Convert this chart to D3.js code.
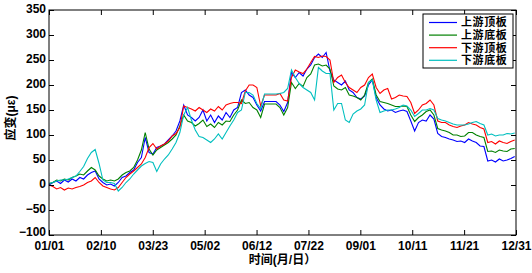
<!DOCTYPE html>
<html>
<head>
<meta charset="utf-8">
<script src="https://cdn.jsdelivr.net/npm/d3@7"></script>
<style>
html,body{margin:0;padding:0;background:#fff;}
svg{display:block;}
</style>
</head>
<body>
<svg id="chart" width="532" height="273"></svg>
<script>
// ---- data ----
const dayStep = 3;
const days = d3.range(0, 364, dayStep); // day-of-year grid (0 = 01/01)
const xTickLabels = ["01/01","02/10","03/23","05/02","06/12","07/22","09/01","10/11","11/21","12/31"];
const yTicks = [-100,-50,0,50,100,150,200,250,300,350];
const seriesNames = ["上游顶板","上游底板","下游顶板","下游底板"];
const seriesColors = ["#0000ff","#008000","#ff0000","#00bfbf"];

const upTop = [
  0, 5, 8, 3, 10, 6, 12, 8, 15, 12,
  20, 25, 28, 12, 5, 0, 2, -2, 5, 15,
  18, 25, 30, 45, 55, 95, 65, 62, 75, 78,
  82, 90, 98, 108, 128, 160, 140, 135, 128, 135,
  150, 128, 140, 125, 138, 130, 145, 135, 150, 155,
  185, 190, 180, 175, 160, 148, 167, 167, 167, 167,
  160, 147, 165, 225, 215, 225, 218, 232, 240, 255,
  262, 255, 265, 228, 210, 205, 200, 208, 190, 185,
  175, 172, 178, 200, 210, 175, 160, 152, 148, 150,
  145, 148, 150, 147, 128, 108, 125, 130, 128, 140,
  132, 103, 97, 95, 92, 90, 87, 88, 85, 92,
  88, 85, 78, 77, 48, 50, 46, 52, 48, 50,
  53, 57
];
const upBottom = [
  3, 5, 10, 8, 12, 10, 15, 18, 22, 20,
  28, 35, 30, 18, 12, 8, 10, 8, 12, 20,
  25, 28, 35, 50, 70, 105, 72, 60, 70, 75,
  80, 85, 92, 100, 118, 140, 128, 125, 118, 123,
  130, 117, 122, 115, 125, 120, 128, 127, 140, 150,
  170, 163, 165, 155, 150, 135, 162, 162, 162, 162,
  155, 140, 155, 205, 193, 203, 197, 215, 222, 240,
  242, 238, 240, 232, 198, 192, 190, 195, 180, 178,
  175, 170, 180, 205, 212, 180, 167, 165, 163, 160,
  157, 157, 158, 157, 140, 127, 135, 140, 147, 150,
  140, 113, 110, 108, 105, 100, 100, 97, 98, 105,
  105, 100, 97, 95, 67, 68, 65, 70, 68, 67,
  72, 73
];
const downTop = [
  0, -3, -8, -5, -10, -6, -8, -5, -3, 0,
  5, 8, 15, 5, -2, -5, -8, -10, -5, 5,
  15, 22, 28, 35, 42, 55, 75, 83, 72, 78,
  82, 88, 98, 103, 115, 158, 155, 152, 148, 155,
  150, 145, 152, 148, 157, 150, 160, 163, 165, 165,
  163, 188, 200, 200, 195, 158, 180, 180, 180, 180,
  183, 170, 168, 215, 230, 226, 223, 232, 245, 257,
  255, 258, 257, 250, 205, 215, 220, 205, 195, 190,
  185, 195, 200, 215, 222, 195, 183, 190, 193, 172,
  175, 180, 178, 177, 165, 143, 150, 160, 163, 170,
  160, 128, 125, 125, 120, 117, 115, 118, 120, 125,
  122, 120, 115, 112, 85, 87, 82, 88, 85, 83,
  87, 90
];
const downBottom = [
  3, 5, 8, 10, 10, 12, 15, 18, 27, 37,
  53, 65, 71, 43, 10, 5, 5, 3, -12, -5,
  5, 12, 22, 30, 38, 43, 47, 45, 27, 42,
  52, 60, 72, 85, 105, 140, 155, 130, 110, 97,
  95, 90, 85, 92, 102, 92, 105, 118, 130, 145,
  150, 185, 185, 180, 163, 153, 182, 182, 182, 182,
  183, 185, 193, 230, 215, 203, 195, 190, 185, 170,
  235, 228, 223, 223, 150, 163, 163, 130, 125, 142,
  148, 152, 160, 205, 210, 170, 145, 148, 150, 150,
  152, 155, 160, 158, 150, 137, 143, 150, 150, 153,
  150, 133, 130, 128, 125, 122, 120, 120, 120, 122,
  125, 127, 123, 120, 100, 102, 98, 100, 100, 103,
  102, 104
];
const seriesValues = [upTop, upBottom, downTop, downBottom];

// ---- layout ----
const L = 49, R = 516, T = 10, B = 235;
const svg = d3.select("#chart");
svg.append("rect").attr("width",532).attr("height",273).attr("fill","#fff");

const x = d3.scaleLinear().domain([0,364]).range([L,R]);
const y = d3.scaleLinear().domain([-100,350]).range([B,T]);
const xTickVals = xTickLabels.map((_,i)=> i*364/9);

// lines
const line = d3.line().x((d,i)=>x(days[i])).y(d=>y(d));
seriesValues.forEach((vals,k)=>{
  svg.append("path").datum(vals)
    .attr("fill","none").attr("stroke",seriesColors[k])
    .attr("stroke-width",1.1).attr("d",line);
});

const tickFont = "bold 12px 'Liberation Sans', Arial, sans-serif";
// axes
const gx = svg.append("g").attr("transform",`translate(0,${B})`)
  .call(d3.axisBottom(x).tickValues(xTickVals).tickFormat((d,i)=>xTickLabels[i]).tickSizeInner(-5).tickSizeOuter(0).tickPadding(6));
const gy = svg.append("g").attr("transform",`translate(${L},0)`)
  .call(d3.axisLeft(y).tickValues(yTicks).tickFormat(d3.format("d")).tickSizeInner(-5).tickSizeOuter(0).tickPadding(3));
const gt = svg.append("g").attr("transform",`translate(0,${T})`)
  .call(d3.axisTop(x).tickValues(xTickVals).tickFormat("").tickSizeInner(-5).tickSizeOuter(0));
const gr = svg.append("g").attr("transform",`translate(${R},0)`)
  .call(d3.axisRight(y).tickValues(yTicks).tickFormat("").tickSizeInner(-5).tickSizeOuter(0));
[gx,gy,gt,gr].forEach(g=>{
  g.select(".domain").remove();
  g.selectAll("line").attr("stroke","#000");
  g.selectAll("text").attr("fill","#000").style("font", tickFont);
});
gy.selectAll("text").attr("dy", d => d === -100 ? "0.05em" : "0.22em");
svg.append("rect").attr("x",L).attr("y",T).attr("width",R-L).attr("height",B-T)
  .attr("fill","none").attr("stroke","#000").attr("stroke-width",1);

// axis titles
const titleFont = "'Liberation Sans', 'Noto Sans CJK SC', sans-serif";
svg.append("text").attr("x",(L+R)/2).attr("y",264).attr("text-anchor","middle")
  .style("font-family",titleFont).style("font-size","12px").style("font-weight","bold")
  .text("时间(月/日）");
svg.append("text").attr("transform","translate(15,118) rotate(-90)").attr("text-anchor","middle")
  .style("font-family",titleFont).style("font-size","12px").style("font-weight","bold")
  .text("应变(με)");

// legend
const lg = svg.append("g");
lg.append("rect").attr("x",423).attr("y",14).attr("width",90).attr("height",54)
  .attr("fill","#fff").attr("stroke","#000").attr("stroke-width",1);
seriesNames.forEach((name,k)=>{
  const yy = 22.5 + k*12.6;
  lg.append("line").attr("x1",429).attr("x2",457).attr("y1",yy).attr("y2",yy)
    .attr("stroke",seriesColors[k]).attr("stroke-width",1.2);
  lg.append("text").attr("x",461).attr("y",yy).attr("dy","0.36em")
    .style("font-family",titleFont).style("font-size","11px").style("font-weight","bold")
    .style("letter-spacing","0.6px")
    .text(name);
});
</script>
</body>
</html>
